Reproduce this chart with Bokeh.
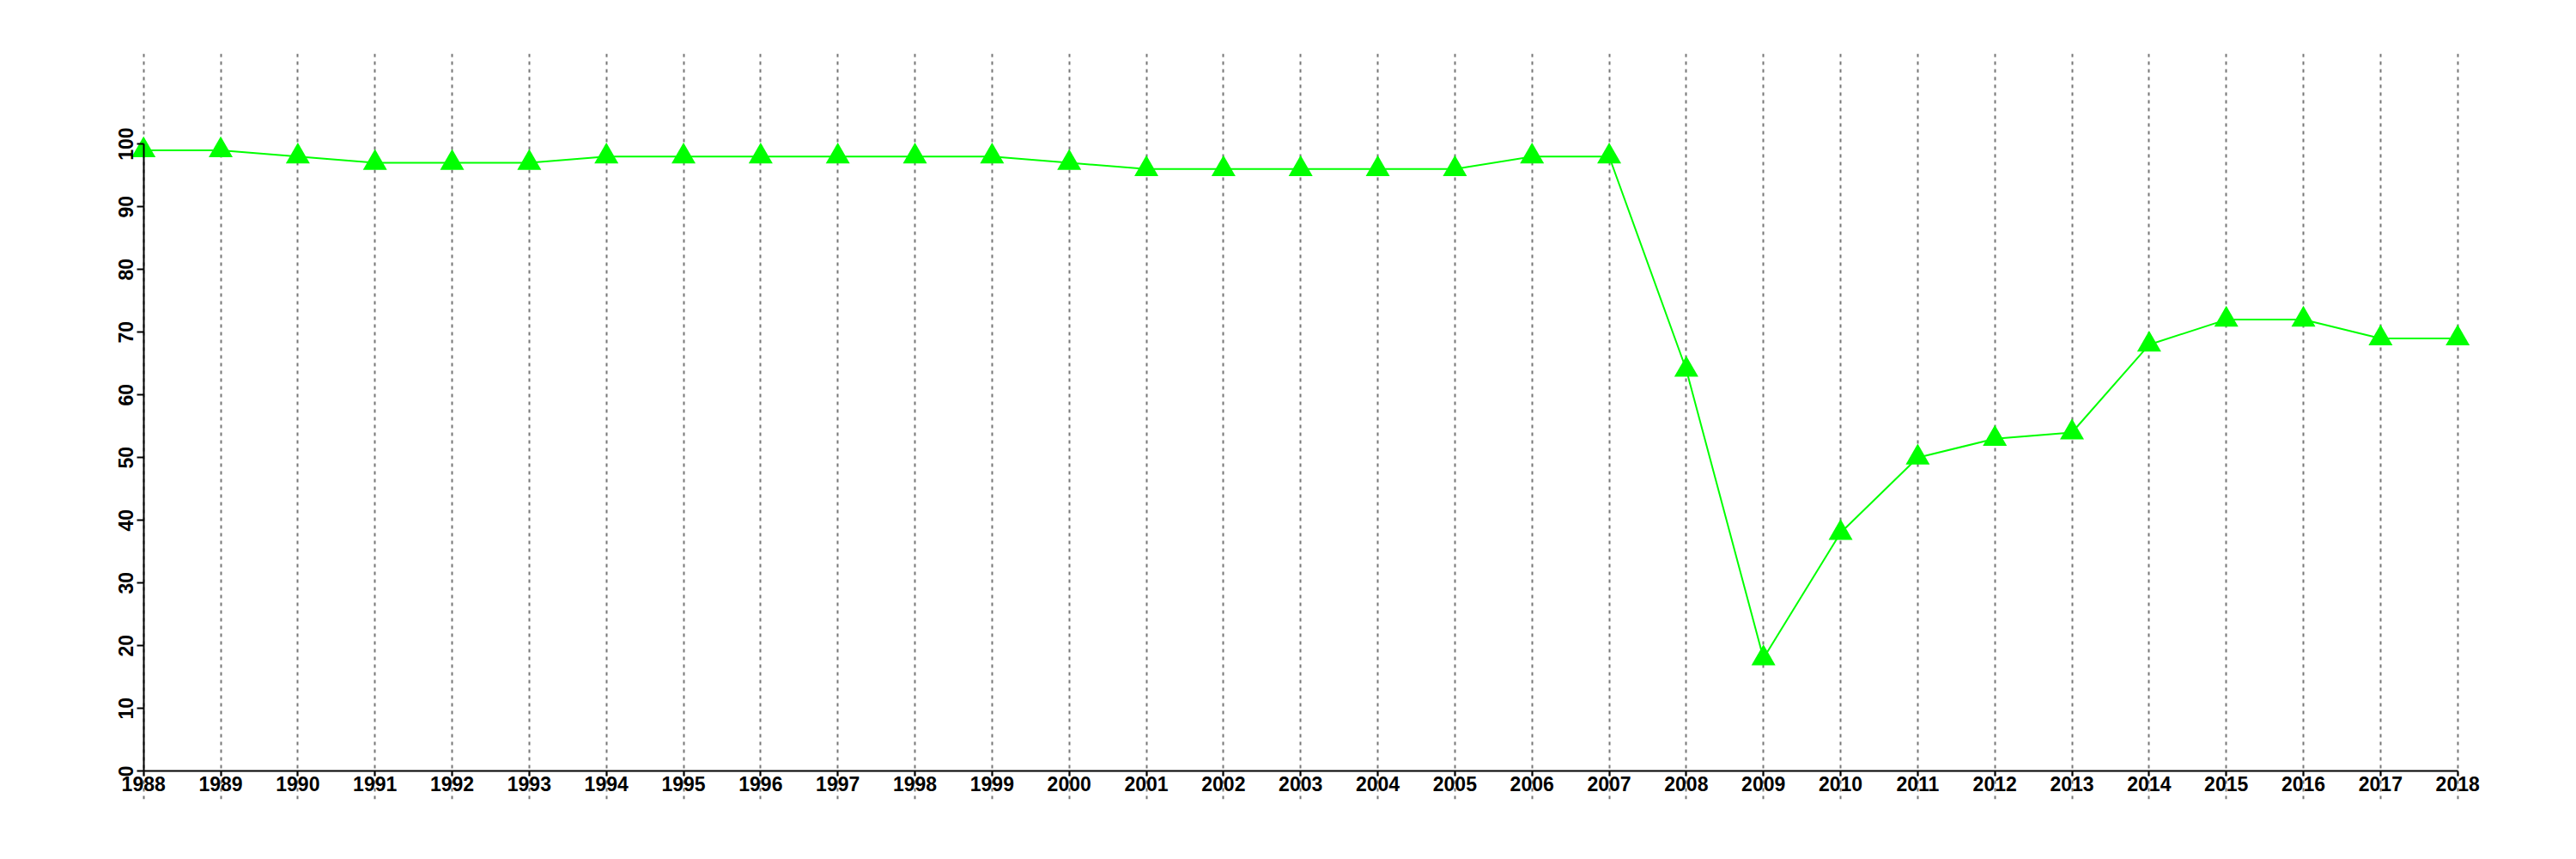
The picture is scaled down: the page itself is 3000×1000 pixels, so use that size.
from bokeh.plotting import figure
from bokeh.models import FixedTicker, Range1d
from bokeh.embed import file_html
from bokeh.resources import INLINE

years = [1988, 1989, 1990, 1991, 1992, 1993, 1994, 1995, 1996, 1997,
         1998, 1999, 2000, 2001, 2002, 2003, 2004, 2005, 2006, 2007,
         2008, 2009, 2010, 2011, 2012, 2013, 2014, 2015, 2016, 2017, 2018]
values = [99, 99, 98, 97, 97, 97, 98, 98, 98, 98,
          98, 98, 97, 96, 96, 96, 96, 96, 98, 98,
          64, 18, 38, 50, 53, 54, 68, 72, 72, 69, 69]
y_ticks = [0, 10, 20, 30, 40, 50, 60, 70, 80, 90, 100]

GREEN = "#00FF00"
FONT = "Liberation Sans"

p = figure(frame_width=2775, frame_height=868,
           x_range=Range1d(1987.4245, 2018.315), y_range=Range1d(-4.48, 114.4),
           output_backend="svg", toolbar_location=None,
           min_border_left=115, min_border_top=62, min_border_right=10,
           min_border_bottom=40)
p.outline_line_color = None
p.background_fill_color = "white"
p.border_fill_color = "white"

# grid: vertical dotted lines at each year
p.ygrid.visible = False
p.xgrid.ticker = FixedTicker(ticks=years)
p.xgrid.grid_line_color = "#777777"
p.xgrid.grid_line_width = 2
p.xgrid.grid_line_dash = "4 5"

# x axis
xa = p.xaxis[0]
xa.ticker = FixedTicker(ticks=years)
xa.fixed_location = 0
xa.bounds = (years[0], years[-1])
xa.axis_line_width = 2
xa.axis_line_color = "black"
xa.major_tick_line_width = 2
xa.major_tick_out = 6
xa.major_tick_in = 0
xa.minor_tick_line_color = None
xa.major_label_text_font = FONT
xa.major_label_text_font_style = "bold"
xa.major_label_text_font_size = "23px"
xa.major_label_text_color = "black"
xa.major_label_standoff = 0

# y axis
ya = p.yaxis[0]
ya.ticker = FixedTicker(ticks=y_ticks)
ya.fixed_location = years[0]
ya.bounds = (0, 100)
ya.axis_line_width = 2
ya.axis_line_color = "black"
ya.major_tick_line_width = 2
ya.major_tick_out = 8
ya.major_tick_in = 0
ya.minor_tick_line_color = None
ya.major_label_orientation = "vertical"
ya.major_label_text_font = FONT
ya.major_label_text_font_style = "bold"
ya.major_label_text_font_size = "23px"
ya.major_label_text_color = "black"
ya.major_label_standoff = 4

p.line(years, values, line_color=GREEN, line_width=2)
p.scatter(years, values, marker="triangle", size=28,
          fill_color=GREEN, line_color=None)

open("out.html", "w").write(file_html(p, INLINE))
